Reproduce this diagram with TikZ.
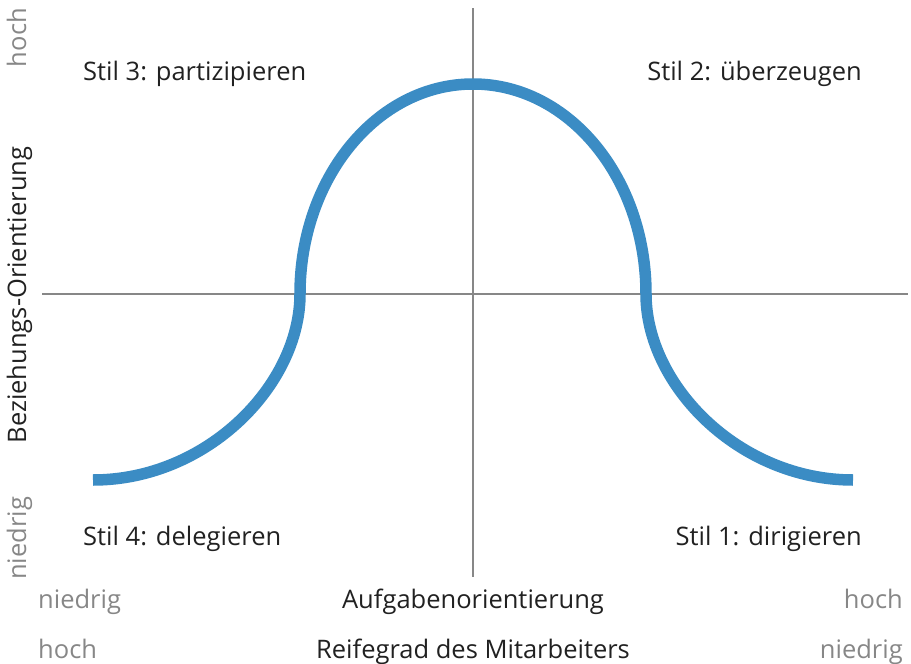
\documentclass[tikz,border=0pt]{standalone}
\usepackage{fontspec}
\setmainfont{Open Sans}
\definecolor{CurveClr}{rgb}{0.23,0.55,0.77}
\definecolor{AxisClr}{rgb}{0.53,0.53,0.53}
\definecolor{TextClr}{rgb}{0.13,0.13,0.13}

\begin{document}
\begin{tikzpicture}[x=1pt,y=-1pt,
  lbl/.style={font=\fontsize{25.5}{30}\selectfont,text=TextClr,inner sep=0pt},
  scl/.style={lbl,text=AxisClr},
  axis/.style={AxisClr,line width=2pt}]
\useasboundingbox (0,0) rectangle (911,664);

% axes
\coordinate (Top) at (473,8);
\coordinate (Bot) at (473,577);
\coordinate (Lft) at (42,294);
\coordinate (Rgt) at (908,294);
\draw[axis] (Top) -- (Bot);
\draw[axis] (Lft) -- (Rgt);

% curve
\coordinate (C0) at (93,480);
\coordinate (C1) at (300,294);
\coordinate (C2) at (473,84);
\coordinate (C3) at (646,294);
\coordinate (C4) at (853,480);
\draw[CurveClr,line width=11.5pt]
  (C0) .. controls (207,480) and (300,385) .. (C1)
       .. controls (300,178) and (377,84) .. (C2)
       .. controls (569,84) and (646,178) .. (C3)
       .. controls (646,385) and (739,480) .. (C4);

% quadrants
\node[lbl,anchor=base west] (S3) at (83,80) {Stil 3: partizipieren};
\node[lbl,anchor=base east] (S2) at (862,80) {Stil 2: überzeugen};
\node[lbl,anchor=base west] (S4) at (83,545) {Stil 4: delegieren};
\node[lbl,anchor=base east] (S1) at (862,545) {Stil 1: dirigieren};

% x axis labels
\node[lbl,anchor=base] (XA) at (473,608) {Aufgabenorientierung};
\node[lbl,anchor=base] (XB) at (473,658) {Reifegrad des Mitarbeiters};
\node[scl,anchor=base west] (XA0) at (38,608) {niedrig};
\node[scl,anchor=base east] (XA1) at (903,608) {hoch};
\node[scl,anchor=base west] (XB0) at (38,658) {hoch};
\node[scl,anchor=base east] (XB1) at (903,658) {niedrig};

% y axis labels
\node[lbl,rotate=90,anchor=base] (YA) at (26,295) {Beziehungs-Orientierung};
\node[scl,rotate=90,anchor=base east] (YA1) at (26,8) {hoch};
\node[scl,rotate=90,anchor=base west] (YA0) at (26,580) {niedrig};
\end{tikzpicture}
\end{document}
